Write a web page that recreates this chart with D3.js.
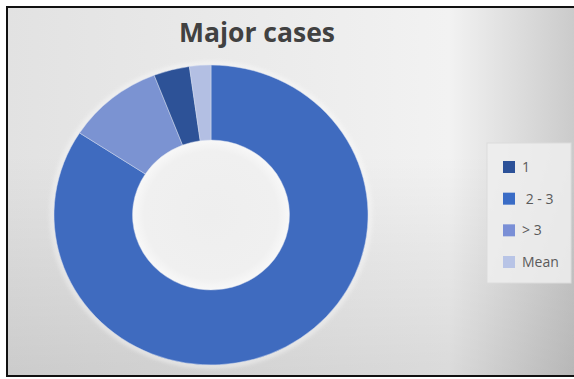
<!DOCTYPE html>
<html>
<head>
<meta charset="utf-8">
<script src="https://cdn.jsdelivr.net/npm/d3@7"></script>
<style>
  html, body { margin: 0; padding: 0; background: #ffffff; }
  svg { display: block; }
  text { white-space: pre; }
</style>
</head>
<body>
<svg id="chart" width="574" height="379"></svg>
<script>
// Donut chart: share of major cases by group
const title = "Major cases";
const categories = ["1", " 2 - 3", "> 3", "Mean"];
const shares = [3.7, 84.3, 9.9, 2.2];
const colors = ["#2d5297", "#3f6bbf", "#7b93d2", "#b3bfe3"];
const legendColors = ["#2c5198", "#3a6cc6", "#7a8fd6", "#b8c4e6"];
// order in which slices run clockwise from 12 o'clock
const sliceOrder = [" 2 - 3", "> 3", "1", "Mean"];

const svg = d3.select("#chart");
const W = 574, H = 379;
const defs = svg.append("defs");

// background: soft grey panel, lighter towards the upper right
const bgH = defs.append("linearGradient").attr("id", "bgH")
  .attr("x1", 0).attr("x2", 1).attr("y1", 0).attr("y2", 0);
bgH.append("stop").attr("offset", "0%").attr("stop-color", "#e2e2e2");
bgH.append("stop").attr("offset", "45%").attr("stop-color", "#ebebeb");
bgH.append("stop").attr("offset", "78%").attr("stop-color", "#f2f2f2");
bgH.append("stop").attr("offset", "100%").attr("stop-color", "#cbcbcb");
const bgV = defs.append("linearGradient").attr("id", "bgV")
  .attr("x1", 0).attr("x2", 0).attr("y1", 0).attr("y2", 1);
bgV.append("stop").attr("offset", "0%").attr("stop-color", "#000").attr("stop-opacity", 0);
bgV.append("stop").attr("offset", "40%").attr("stop-color", "#000").attr("stop-opacity", 0.0);
bgV.append("stop").attr("offset", "100%").attr("stop-color", "#000").attr("stop-opacity", 0.1);

svg.append("rect").attr("width", W).attr("height", H).attr("fill", "#ffffff");
svg.append("rect").attr("x", 7).attr("y", 7).attr("width", W - 7).attr("height", 369)
  .attr("fill", "url(#bgH)");
svg.append("rect").attr("x", 7).attr("y", 7).attr("width", W - 7).attr("height", 369)
  .attr("fill", "url(#bgV)");

// frame (left, top, bottom)
svg.append("path")
  .attr("d", `M${W},7H7V376H${W}`)
  .attr("fill", "none").attr("stroke", "#111").attr("stroke-width", 2);

// title
svg.append("text")
  .attr("x", 257).attr("y", 42)
  .attr("text-anchor", "middle")
  .attr("font-family", "'Open Sans', 'Liberation Sans', sans-serif")
  .attr("font-weight", 700)
  .attr("font-size", 26.5)
  .attr("fill", "#414141")
  .text(title);

// donut
const cx = 211, cy = 215, outerR = 157, innerR = 78.5, squash = 0.955;
const data = sliceOrder.map(c => {
  const i = categories.indexOf(c);
  return { category: c, value: shares[i], color: colors[i] };
});
const pie = d3.pie().sort(null).value(d => d.value).startAngle(0).endAngle(2 * Math.PI);
const arc = d3.arc().innerRadius(innerR).outerRadius(outerR);

const shadow = defs.append("filter").attr("id", "soft")
  .attr("x", "-20%").attr("y", "-20%").attr("width", "140%").attr("height", "140%");
shadow.append("feGaussianBlur").attr("stdDeviation", 2.5);

const hole = defs.append("radialGradient").attr("id", "hole");
hole.append("stop").attr("offset", "0%").attr("stop-color", "#eeeeee");
hole.append("stop").attr("offset", "85%").attr("stop-color", "#f0f0f0");
hole.append("stop").attr("offset", "100%").attr("stop-color", "#f8f8f8");

const g = svg.append("g")
  .attr("transform", `translate(${cx},${cy}) scale(1,${squash})`);

// faint halo around the ring
g.append("circle").attr("r", outerR + 1.5)
  .attr("fill", "none").attr("stroke", "#ffffff").attr("stroke-width", 3)
  .attr("opacity", 0.7).attr("filter", "url(#soft)");

// lighter hole
g.append("circle").attr("r", innerR).attr("fill", "url(#hole)");

g.selectAll("path.slice")
  .data(pie(data))
  .join("path")
  .attr("class", "slice")
  .attr("d", arc)
  .attr("fill", d => d.data.color)
  .attr("stroke", "#d6def0")
  .attr("stroke-width", 0.7)
  .attr("stroke-opacity", 0.7);

// legend
const lg = svg.append("g");
lg.append("rect")
  .attr("x", 487).attr("y", 143).attr("width", 84).attr("height", 140)
  .attr("fill", "#eeeeee").attr("fill-opacity", 0.85)
  .attr("stroke", "#dcdcdc").attr("stroke-width", 1);

const ly = d3.scalePoint().domain(categories).range([167, 262]);
const items = lg.selectAll("g.item")
  .data(categories.map((c, i) => ({ c, color: legendColors[i] })))
  .join("g").attr("class", "item")
  .attr("transform", d => `translate(0,${ly(d.c)})`);
items.append("rect")
  .attr("x", 503).attr("y", -6).attr("width", 12).attr("height", 12)
  .attr("fill", d => d.color);
items.append("text")
  .attr("x", 522).attr("y", 5)
  .attr("font-family", "'Open Sans', 'Liberation Sans', sans-serif")
  .attr("font-size", 14)
  .attr("fill", "#5a5a5a")
  .text(d => d.c);
</script>
</body>
</html>
